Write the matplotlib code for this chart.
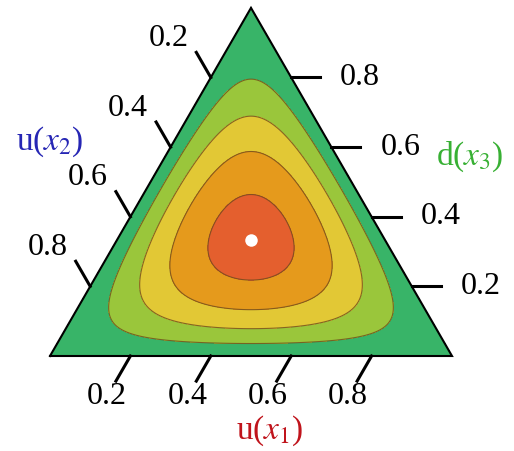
import numpy as np
import matplotlib.pyplot as plt
import matplotlib.tri as mtri

plt.rcParams['font.family'] = ['Liberation Serif', 'DejaVu Serif']
plt.rcParams['mathtext.fontset'] = 'stix'

# Dirichlet concentration and contour bands of its density
alpha = [2.0, 2.0, 2.0]
levels = [0, 1, 2, 3, 4, 5]
band_colors = ['#38b468', '#9ac63b', '#e2c835', '#e59a1c', '#e45f2e']
tick_values = [0.2, 0.4, 0.6, 0.8]
mode_point = [1 / 3, 1 / 3, 1 / 3]

axis_titles = ['u($x_1$)', 'u($x_2$)', 'd($x_3$)']
title_colors = ['#c0141c', '#2626b4', '#38b034']

H = np.sqrt(3) / 2
PX = 1 / 402  # one pixel in data units


def to_xy(x1, x2, x3):
    # x1 -> bottom right corner, x2 -> bottom left, x3 -> top
    x1, x2, x3 = np.asarray(x1), np.asarray(x2), np.asarray(x3)
    s = x1 + x2 + x3
    return (x1 + 0.5 * x3) / s, H * x3 / s


def dirichlet_pdf(x1, x2, x3, a):
    from math import gamma
    norm = gamma(sum(a)) / (gamma(a[0]) * gamma(a[1]) * gamma(a[2]))
    return norm * x1 ** (a[0] - 1) * x2 ** (a[1] - 1) * x3 ** (a[2] - 1)


def px(xp, yp):
    # pixel position (from top-left) -> data coords
    return (xp - 50) * PX, (356 - yp) * PX


fig = plt.figure(figsize=(5.14, 4.51), dpi=100)
ax = fig.add_axes([0, 0, 1, 1])
ax.set_xlim(-50 * PX, 464 * PX)
ax.set_ylim(-95 * PX, 356 * PX)
ax.axis('off')

# triangular grid in barycentric coordinates
n = 200
b1, b3 = [], []
for i in range(n + 1):
    for j in range(n + 1 - i):
        b1.append(i / n)
        b3.append(j / n)
b1 = np.array(b1)
b3 = np.array(b3)
b2 = np.clip(1 - b1 - b3, 0, 1)
gx, gy = to_xy(b1, b2, b3)
z = dirichlet_pdf(b1, b2, b3, alpha)
tri = mtri.Triangulation(gx, gy)

ax.tricontourf(tri, z, levels=levels, colors=band_colors)
ax.tricontour(tri, z, levels=levels[1:-1], colors='#6e4b1c', linewidths=0.8, alpha=0.8)

# outline
ax.plot([0, 1, 0.5, 0], [0, 0, H, 0], color='black', lw=1.5, solid_joinstyle='miter')

tick_len = 29 * PX
lab_dist = 47 * PX
fs = 23
tick_lw = 2.2

for t in tick_values:
    # bottom axis: x1, ticks parallel to left edge
    x0, y0 = to_xy(t, 1 - t, 0)
    d = np.array([-0.5, -H])
    ax.plot([x0, x0 + d[0] * tick_len], [y0, y0 + d[1] * tick_len], color='black', lw=tick_lw)
    ax.text(x0 + d[0] * lab_dist, y0 + d[1] * lab_dist, f'{t:.1f}', fontsize=fs,
            ha='center', va='center')

    # left axis: x2, ticks parallel to right edge
    x0, y0 = to_xy(0, t, 1 - t)
    d = np.array([-0.5, H])
    ax.plot([x0, x0 + d[0] * tick_len], [y0, y0 + d[1] * tick_len], color='black', lw=tick_lw)
    ax.text(x0 + d[0] * (lab_dist - 2 * PX), y0 + d[1] * (lab_dist - 2 * PX), f'{t:.1f}',
            fontsize=fs, ha='right', va='center')

    # right axis: x3, horizontal ticks
    x0, y0 = to_xy(1 - t, 0, t)
    ax.plot([x0, x0 + tick_len], [y0, y0], color='black', lw=tick_lw)
    ax.text(x0 + 49 * PX, y0, f'{t:.1f}', fontsize=fs, ha='left', va='center')

# axis titles
title_pos = [(270, 431), (50, 142), (470, 157)]
for label, color, (xp, yp) in zip(axis_titles, title_colors, title_pos):
    tx, ty = px(xp, yp)
    ax.text(tx, ty, label, color=color, fontsize=24, ha='center', va='center')

# mode of the density
mx, my = to_xy(*mode_point)
ax.plot(mx, my, 'o', color='white', markersize=9, markeredgewidth=0)

fig.savefig('out.png', dpi=100)
